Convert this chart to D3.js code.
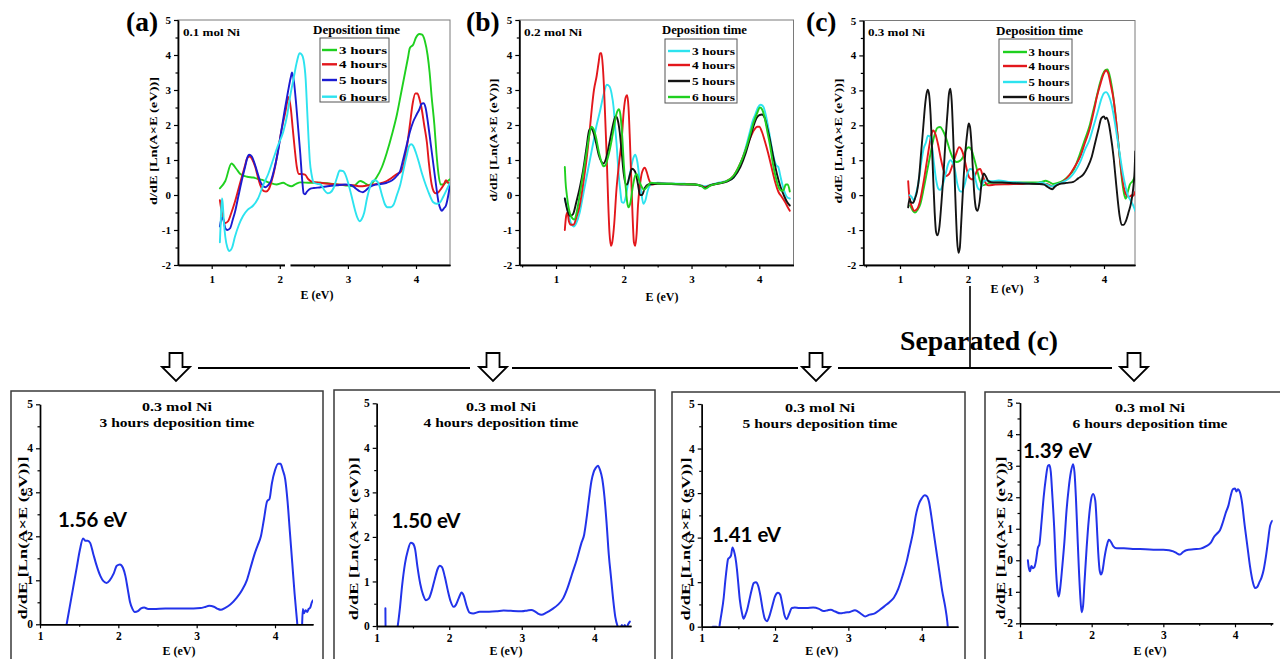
<!DOCTYPE html>
<html><head><meta charset="utf-8">
<script src="https://cdn.jsdelivr.net/npm/d3@7"></script>
<style>body{margin:0;background:#fff}svg{display:block}</style>
</head><body>
<svg id="fig" width="1280" height="659"></svg>
<script>
// ---------------- DATA ----------------
const xTickVals = [1, 2, 3, 4];
const yTicksTop = [-2, -1, 0, 1, 2, 3, 4, 5];
const yTicksBot = [0, 1, 2, 3, 4, 5];
const hoursLabels = ["3 hours", "4 hours", "5 hours", "6 hours"];
const panelLabels = ["(a)", "(b)", "(c)"];
const concLabels = ["0.1 mol Ni", "0.2 mol Ni", "0.3 mol Ni"];
const gapLabels = ["1.56 eV", "1.50 eV", "1.41 eV", "1.39 eV"];
const bottomTitles = ["3 hours deposition time", "4 hours deposition time", "5 hours deposition time", "6 hours deposition time"];

// (a) 0.1 mol Ni
const a3 = [[1.12,0.19],[1.2,0.4],[1.29,0.9],[1.36,0.75],[1.42,0.6],[1.52,0.52],[1.61,0.5],[1.7,0.45],[1.76,0.42],[1.85,0.35],[1.95,0.3],[2.05,0.35],[2.1,0.3],[2.17,0.25],[2.24,0.32],[2.3,0.36],[2.45,0.35],[2.59,0.35],[2.72,0.33],[2.84,0.3],[2.95,0.28],[3.08,0.25],[3.18,0.4],[3.24,0.35],[3.3,0.28],[3.36,0.35],[3.42,0.5],[3.5,0.8],[3.57,1.2],[3.65,1.75],[3.72,2.3],[3.78,2.9],[3.84,3.5],[3.88,3.9],[3.91,4.2],[3.96,4.3],[4.0,4.5],[4.05,4.6],[4.09,4.58],[4.13,4.4],[4.17,4.0],[4.2,3.5],[4.23,2.8],[4.27,2.0],[4.3,1.2],[4.33,0.6],[4.36,0.3],[4.4,0.3],[4.45,0.38],[4.5,0.45]];
const a4 = [[1.12,-0.15],[1.16,-0.6],[1.2,-0.8],[1.24,-0.75],[1.29,-0.5],[1.34,-0.2],[1.39,0.15],[1.44,0.5],[1.49,0.85],[1.52,1.05],[1.56,1.1],[1.6,1.0],[1.64,0.8],[1.68,0.5],[1.72,0.25],[1.76,0.12],[1.8,0.1],[1.84,0.17],[1.88,0.4],[1.93,0.8],[1.98,1.35],[2.03,1.9],[2.08,2.35],[2.13,2.8],[2.16,2.5],[2.19,1.9],[2.22,1.3],[2.25,0.8],[2.28,0.6],[2.32,0.6],[2.37,0.58],[2.42,0.45],[2.47,0.38],[2.59,0.35],[2.72,0.32],[2.84,0.3],[2.96,0.29],[3.08,0.28],[3.18,0.25],[3.28,0.27],[3.37,0.3],[3.47,0.33],[3.57,0.4],[3.65,0.5],[3.72,0.6],[3.77,0.65],[3.81,0.8],[3.86,1.3],[3.91,2.0],[3.95,2.6],[3.99,2.9],[4.02,2.9],[4.05,2.75],[4.08,2.5],[4.12,2.0],[4.16,1.5],[4.19,0.9],[4.23,0.3],[4.26,0.1],[4.29,0.05],[4.33,0.08],[4.37,0.18],[4.41,0.3],[4.44,0.42],[4.47,0.35],[4.5,0.3]];
const a5 = [[1.12,-0.9],[1.15,-0.65],[1.17,-0.7],[1.2,-0.95],[1.23,-1.0],[1.27,-0.95],[1.31,-0.7],[1.34,-0.5],[1.39,-0.05],[1.44,0.4],[1.49,0.8],[1.53,1.1],[1.55,1.15],[1.59,1.1],[1.63,0.9],[1.67,0.65],[1.71,0.4],[1.75,0.27],[1.79,0.22],[1.83,0.28],[1.87,0.4],[1.92,0.75],[1.97,1.2],[2.02,1.8],[2.07,2.4],[2.12,2.95],[2.16,3.35],[2.18,3.5],[2.21,3.2],[2.24,2.6],[2.27,1.9],[2.3,1.2],[2.33,0.4],[2.35,0.05],[2.37,0.02],[2.4,0.1],[2.45,0.18],[2.5,0.2],[2.6,0.22],[2.7,0.25],[2.84,0.28],[2.96,0.3],[3.05,0.28],[3.12,0.18],[3.18,0.1],[3.22,0.08],[3.26,0.13],[3.3,0.2],[3.36,0.27],[3.42,0.3],[3.5,0.32],[3.57,0.35],[3.65,0.42],[3.72,0.55],[3.77,0.7],[3.81,1.0],[3.86,1.4],[3.91,1.8],[3.96,2.1],[4.01,2.3],[4.05,2.45],[4.08,2.6],[4.11,2.62],[4.14,2.5],[4.18,2.0],[4.22,1.4],[4.26,0.8],[4.3,0.2],[4.33,-0.2],[4.36,-0.4],[4.38,-0.45],[4.41,-0.38],[4.44,-0.3],[4.47,-0.05],[4.5,0.3]];
const a6 = [[1.12,-1.35],[1.13,-0.9],[1.15,-0.1],[1.16,-0.2],[1.18,-0.8],[1.2,-1.2],[1.23,-1.5],[1.26,-1.6],[1.3,-1.5],[1.34,-1.2],[1.4,-0.85],[1.46,-0.6],[1.53,-0.42],[1.61,-0.3],[1.68,-0.1],[1.76,0.3],[1.83,0.6],[1.9,1.0],[1.97,1.4],[2.05,1.8],[2.11,2.3],[2.15,2.8],[2.2,3.3],[2.25,3.8],[2.29,4.05],[2.32,4.02],[2.35,3.85],[2.38,3.3],[2.4,2.5],[2.42,1.7],[2.44,1.0],[2.47,0.55],[2.5,0.35],[2.55,0.32],[2.6,0.3],[2.65,0.15],[2.7,0.05],[2.74,0.07],[2.79,0.2],[2.84,0.5],[2.88,0.7],[2.93,0.68],[2.97,0.55],[3.01,0.3],[3.05,0.0],[3.1,-0.4],[3.14,-0.65],[3.17,-0.75],[3.2,-0.7],[3.24,-0.5],[3.28,-0.1],[3.32,0.2],[3.36,0.4],[3.4,0.42],[3.45,0.33],[3.5,0.0],[3.54,-0.25],[3.58,-0.35],[3.63,-0.35],[3.67,-0.28],[3.72,0.0],[3.77,0.3],[3.82,0.75],[3.86,1.1],[3.9,1.4],[3.93,1.45],[3.96,1.4],[4.0,1.2],[4.04,0.95],[4.09,0.6],[4.15,0.25],[4.2,0.0],[4.25,-0.2],[4.3,-0.25],[4.35,-0.22],[4.4,-0.05],[4.45,0.15],[4.49,0.32]];

// (b) 0.2 mol Ni
const b3 = [[1.13,-0.1],[1.18,-0.5],[1.22,-0.8],[1.26,-0.9],[1.3,-0.8],[1.35,-0.5],[1.4,0.0],[1.45,0.5],[1.5,1.0],[1.55,1.5],[1.6,2.0],[1.65,2.4],[1.7,2.85],[1.75,3.15],[1.79,3.1],[1.82,2.9],[1.85,2.5],[1.87,2.0],[1.9,1.3],[1.92,0.7],[1.95,0.1],[1.97,-0.2],[2.0,-0.22],[2.03,-0.05],[2.06,0.3],[2.1,0.7],[2.14,1.05],[2.17,1.15],[2.2,0.95],[2.23,0.5],[2.26,0.05],[2.29,-0.25],[2.32,-0.15],[2.35,0.1],[2.4,0.3],[2.5,0.35],[2.7,0.33],[2.9,0.32],[3.05,0.3],[3.15,0.27],[3.2,0.25],[3.3,0.3],[3.4,0.35],[3.52,0.4],[3.62,0.5],[3.7,0.8],[3.76,1.1],[3.82,1.5],[3.86,1.8],[3.9,2.1],[3.94,2.3],[3.98,2.5],[4.02,2.58],[4.06,2.52],[4.1,2.25],[4.14,1.85],[4.18,1.4],[4.21,1.1],[4.25,0.85],[4.28,0.8],[4.31,0.55],[4.34,0.3],[4.38,0.05],[4.42,-0.08],[4.45,-0.1]];
const b4 = [[1.13,-1.0],[1.15,-0.6],[1.17,-0.5],[1.19,-0.75],[1.22,-0.85],[1.26,-0.85],[1.3,-0.65],[1.35,-0.3],[1.4,0.3],[1.45,1.0],[1.5,1.9],[1.53,2.5],[1.56,3.0],[1.6,3.4],[1.63,3.8],[1.65,4.05],[1.67,4.05],[1.69,3.7],[1.71,3.0],[1.73,2.0],[1.75,1.0],[1.77,-0.2],[1.79,-1.1],[1.81,-1.45],[1.83,-1.35],[1.86,-0.8],[1.89,0.1],[1.93,0.9],[1.97,1.6],[2.0,2.4],[2.03,2.8],[2.05,2.85],[2.07,2.5],[2.09,1.6],[2.11,0.5],[2.13,-0.6],[2.15,-1.35],[2.17,-1.45],[2.19,-1.1],[2.21,-0.3],[2.24,0.3],[2.27,0.65],[2.31,0.78],[2.34,0.65],[2.37,0.45],[2.41,0.3],[2.5,0.33],[2.7,0.32],[2.9,0.31],[3.05,0.3],[3.15,0.26],[3.2,0.22],[3.28,0.28],[3.4,0.33],[3.52,0.4],[3.62,0.55],[3.72,0.9],[3.8,1.3],[3.86,1.6],[3.92,1.85],[3.97,1.95],[4.0,1.95],[4.04,1.8],[4.08,1.55],[4.13,1.2],[4.18,0.8],[4.23,0.4],[4.28,0.1],[4.33,-0.05],[4.38,-0.2],[4.42,-0.35],[4.45,-0.45]];
const b5 = [[1.13,-0.1],[1.17,-0.45],[1.21,-0.6],[1.25,-0.55],[1.3,-0.2],[1.35,0.2],[1.4,0.7],[1.45,1.35],[1.49,1.85],[1.52,1.9],[1.55,1.8],[1.59,1.5],[1.63,1.15],[1.67,0.95],[1.7,0.9],[1.74,1.05],[1.78,1.4],[1.82,1.8],[1.86,2.15],[1.88,2.25],[1.91,2.15],[1.94,1.8],[1.97,1.2],[2.0,0.6],[2.03,0.3],[2.05,0.3],[2.08,0.5],[2.12,0.75],[2.15,0.72],[2.18,0.6],[2.21,0.3],[2.24,0.0],[2.27,0.0],[2.31,0.2],[2.36,0.3],[2.5,0.32],[2.7,0.31],[2.9,0.3],[3.05,0.3],[3.15,0.25],[3.2,0.2],[3.27,0.27],[3.4,0.33],[3.52,0.38],[3.62,0.5],[3.72,0.8],[3.8,1.2],[3.86,1.6],[3.92,2.0],[3.96,2.2],[4.0,2.28],[4.04,2.3],[4.08,2.2],[4.12,1.9],[4.16,1.55],[4.21,1.05],[4.26,0.6],[4.31,0.25],[4.36,0.0],[4.41,-0.2],[4.45,-0.3]];
const b6 = [[1.13,0.8],[1.14,0.4],[1.16,0.0],[1.19,-0.4],[1.22,-0.6],[1.27,-0.7],[1.31,-0.45],[1.35,0.0],[1.4,0.6],[1.45,1.2],[1.49,1.7],[1.52,1.95],[1.55,1.9],[1.59,1.65],[1.63,1.25],[1.67,0.95],[1.7,0.82],[1.73,0.85],[1.77,1.1],[1.82,1.55],[1.86,2.0],[1.89,2.3],[1.93,2.45],[1.95,2.3],[1.98,1.6],[2.0,0.9],[2.03,0.2],[2.05,-0.2],[2.07,-0.35],[2.1,-0.2],[2.13,0.2],[2.16,0.5],[2.19,0.6],[2.22,0.45],[2.26,0.25],[2.3,0.15],[2.35,0.25],[2.4,0.35],[2.5,0.33],[2.7,0.32],[2.9,0.31],[3.05,0.3],[3.15,0.25],[3.2,0.18],[3.27,0.26],[3.4,0.33],[3.52,0.4],[3.62,0.55],[3.72,0.9],[3.8,1.3],[3.86,1.7],[3.92,2.1],[3.97,2.35],[4.01,2.5],[4.04,2.45],[4.08,2.2],[4.12,1.8],[4.16,1.4],[4.2,0.9],[4.25,0.45],[4.29,0.2],[4.33,0.12],[4.36,0.15],[4.39,0.3],[4.42,0.3],[4.45,0.1]];

// (c) 0.3 mol Ni
const c3 = [[1.15,-0.3],[1.19,-0.45],[1.22,-0.5],[1.26,-0.42],[1.3,-0.25],[1.35,0.2],[1.4,0.7],[1.44,1.1],[1.48,1.5],[1.52,1.8],[1.55,1.93],[1.59,1.95],[1.63,1.85],[1.68,1.62],[1.73,1.3],[1.78,1.05],[1.83,0.95],[1.88,0.98],[1.93,1.1],[1.97,1.3],[2.01,1.37],[2.05,1.3],[2.09,1.05],[2.13,0.75],[2.17,0.45],[2.21,0.28],[2.26,0.3],[2.32,0.35],[2.4,0.36],[2.6,0.36],[2.8,0.36],[3.0,0.36],[3.08,0.38],[3.14,0.41],[3.19,0.38],[3.25,0.32],[3.32,0.35],[3.4,0.42],[3.48,0.55],[3.56,0.75],[3.64,1.15],[3.72,1.6],[3.79,2.0],[3.84,2.4],[3.89,2.8],[3.94,3.2],[3.98,3.45],[4.02,3.58],[4.05,3.6],[4.08,3.45],[4.12,3.05],[4.16,2.45],[4.2,1.7],[4.24,0.9],[4.27,0.35],[4.3,0.0],[4.32,-0.1],[4.35,0.1],[4.38,0.3],[4.42,0.4],[4.46,0.55]];
const c4 = [[1.12,0.4],[1.14,-0.1],[1.17,-0.3],[1.21,-0.45],[1.25,-0.4],[1.29,-0.2],[1.34,0.3],[1.39,0.9],[1.43,1.4],[1.47,1.8],[1.49,1.85],[1.52,1.75],[1.56,1.45],[1.6,1.05],[1.64,0.72],[1.68,0.55],[1.72,0.6],[1.77,0.85],[1.82,1.15],[1.87,1.37],[1.9,1.32],[1.94,1.1],[1.98,0.75],[2.02,0.5],[2.06,0.45],[2.1,0.55],[2.14,0.72],[2.18,0.75],[2.21,0.6],[2.25,0.38],[2.3,0.28],[2.4,0.3],[2.6,0.31],[2.8,0.32],[3.0,0.32],[3.1,0.33],[3.16,0.32],[3.24,0.25],[3.32,0.3],[3.42,0.42],[3.5,0.6],[3.58,0.85],[3.65,1.1],[3.72,1.5],[3.79,1.9],[3.85,2.4],[3.9,2.85],[3.95,3.2],[3.99,3.45],[4.03,3.57],[4.06,3.5],[4.1,3.15],[4.14,2.75],[4.18,2.1],[4.22,1.3],[4.26,0.6],[4.3,0.15],[4.33,0.0],[4.37,-0.05],[4.41,0.0],[4.43,-0.02],[4.46,0.1]];
const c5 = [[1.14,0.0],[1.17,-0.05],[1.2,-0.15],[1.23,0.0],[1.27,0.35],[1.31,0.9],[1.35,1.35],[1.38,1.5],[1.41,1.7],[1.44,1.68],[1.47,1.4],[1.5,0.9],[1.53,0.45],[1.56,0.2],[1.59,0.15],[1.63,0.3],[1.67,0.6],[1.71,0.9],[1.74,1.0],[1.77,0.95],[1.81,0.7],[1.84,0.35],[1.88,0.12],[1.91,0.1],[1.95,0.3],[1.99,0.6],[2.03,0.75],[2.07,0.72],[2.11,0.45],[2.14,0.22],[2.17,0.15],[2.2,0.25],[2.24,0.42],[2.28,0.42],[2.35,0.4],[2.45,0.42],[2.6,0.38],[2.75,0.36],[2.9,0.33],[3.0,0.33],[3.08,0.36],[3.16,0.3],[3.23,0.25],[3.3,0.3],[3.4,0.38],[3.5,0.5],[3.58,0.7],[3.65,0.95],[3.72,1.3],[3.79,1.6],[3.85,2.0],[3.91,2.4],[3.96,2.75],[4.0,2.92],[4.03,2.95],[4.07,2.85],[4.11,2.6],[4.15,2.2],[4.19,1.7],[4.23,1.2],[4.27,0.7],[4.31,0.3],[4.35,0.0],[4.39,-0.15],[4.43,-0.3],[4.46,-0.45]];
const c6 = [[1.12,-0.35],[1.14,-0.1],[1.16,-0.2],[1.19,-0.22],[1.22,-0.1],[1.25,0.1],[1.28,0.5],[1.31,1.2],[1.34,1.9],[1.37,2.6],[1.39,2.9],[1.41,3.02],[1.43,2.85],[1.45,2.3],[1.47,1.4],[1.49,0.4],[1.51,-0.5],[1.53,-1.05],[1.55,-1.15],[1.58,-0.9],[1.61,-0.2],[1.64,0.6],[1.67,1.6],[1.7,2.4],[1.72,2.9],[1.74,3.05],[1.76,2.7],[1.78,1.8],[1.8,0.7],[1.82,-0.4],[1.84,-1.3],[1.86,-1.65],[1.88,-1.5],[1.9,-0.8],[1.93,0.3],[1.96,1.2],[1.99,1.8],[2.01,2.05],[2.03,1.95],[2.05,1.5],[2.07,0.8],[2.09,0.1],[2.12,-0.4],[2.14,-0.45],[2.17,-0.2],[2.2,0.35],[2.23,0.62],[2.26,0.55],[2.3,0.4],[2.37,0.36],[2.5,0.36],[2.7,0.34],[2.9,0.33],[3.05,0.32],[3.12,0.3],[3.16,0.25],[3.2,0.2],[3.24,0.17],[3.28,0.25],[3.35,0.32],[3.45,0.35],[3.55,0.38],[3.62,0.48],[3.7,0.6],[3.76,0.8],[3.82,1.1],[3.87,1.5],[3.92,1.9],[3.96,2.2],[4.0,2.25],[4.02,2.18],[4.04,2.22],[4.07,2.05],[4.1,1.7],[4.14,1.1],[4.17,0.5],[4.2,-0.1],[4.23,-0.6],[4.26,-0.85],[4.29,-0.85],[4.32,-0.75],[4.36,-0.5],[4.4,-0.2],[4.43,0.2],[4.45,0.7],[4.46,1.25]];

// Separated (c) panels
const s3 = [[1.3,-0.4],[1.34,0.0],[1.37,0.3],[1.4,0.6],[1.44,1.0],[1.47,1.3],[1.51,1.7],[1.55,1.95],[1.58,1.9],[1.61,1.9],[1.64,1.85],[1.68,1.6],[1.72,1.35],[1.77,1.1],[1.81,0.98],[1.85,0.94],[1.89,1.0],[1.94,1.15],[1.98,1.33],[2.02,1.36],[2.06,1.28],[2.09,1.1],[2.12,0.8],[2.15,0.5],[2.18,0.35],[2.21,0.28],[2.25,0.3],[2.29,0.36],[2.33,0.38],[2.38,0.35],[2.45,0.35],[2.6,0.36],[2.8,0.36],[2.96,0.36],[3.05,0.37],[3.1,0.39],[3.16,0.42],[3.22,0.4],[3.27,0.35],[3.31,0.33],[3.36,0.37],[3.43,0.45],[3.51,0.6],[3.58,0.78],[3.64,1.0],[3.69,1.3],[3.74,1.6],[3.78,1.8],[3.82,2.0],[3.86,2.4],[3.9,2.8],[3.93,2.85],[3.96,3.2],[4.0,3.5],[4.04,3.65],[4.07,3.65],[4.1,3.5],[4.13,3.3],[4.16,2.8],[4.19,2.1],[4.22,1.4],[4.25,0.7],[4.28,0.1],[4.3,-0.3],[4.32,-0.5],[4.34,-0.3],[4.355,0.35],[4.37,0.25],[4.39,0.32],[4.41,0.28],[4.43,0.35],[4.45,0.38],[4.47,0.5],[4.49,0.55]];
const s4 = [[1.12,0.4],[1.125,-0.5],[1.2,-0.5],[1.27,-0.2],[1.29,0.0],[1.32,0.4],[1.35,0.9],[1.39,1.4],[1.43,1.7],[1.47,1.87],[1.5,1.85],[1.53,1.72],[1.56,1.35],[1.6,0.95],[1.64,0.7],[1.68,0.58],[1.72,0.62],[1.76,0.8],[1.8,1.05],[1.84,1.28],[1.87,1.35],[1.9,1.32],[1.94,1.1],[1.98,0.8],[2.02,0.55],[2.06,0.43],[2.09,0.47],[2.13,0.62],[2.17,0.75],[2.2,0.68],[2.24,0.45],[2.28,0.3],[2.33,0.28],[2.42,0.32],[2.55,0.32],[2.65,0.33],[2.75,0.35],[2.85,0.34],[3.0,0.33],[3.08,0.35],[3.13,0.36],[3.18,0.33],[3.23,0.27],[3.27,0.25],[3.34,0.3],[3.42,0.38],[3.5,0.48],[3.57,0.62],[3.63,0.85],[3.69,1.15],[3.76,1.5],[3.82,1.85],[3.86,2.05],[3.9,2.5],[3.93,2.9],[3.96,3.25],[3.99,3.45],[4.02,3.55],[4.05,3.6],[4.08,3.5],[4.11,3.3],[4.14,2.9],[4.17,2.3],[4.2,1.6],[4.23,1.1],[4.26,0.6],[4.29,0.2],[4.32,0.0],[4.35,-0.1],[4.38,0.02],[4.4,-0.05],[4.42,0.02],[4.44,-0.05],[4.47,0.05],[4.49,0.1]];
const s5 = [[1.15,0.0],[1.2,0.0],[1.23,-0.1],[1.25,0.1],[1.27,0.3],[1.3,0.65],[1.32,1.0],[1.34,1.3],[1.36,1.52],[1.38,1.55],[1.4,1.6],[1.42,1.78],[1.44,1.7],[1.46,1.55],[1.48,1.3],[1.5,0.95],[1.52,0.6],[1.55,0.3],[1.57,0.18],[1.6,0.28],[1.62,0.38],[1.65,0.6],[1.68,0.82],[1.71,0.98],[1.74,1.0],[1.77,0.92],[1.8,0.7],[1.83,0.4],[1.86,0.18],[1.89,0.12],[1.92,0.22],[1.96,0.45],[2.0,0.68],[2.04,0.76],[2.07,0.72],[2.1,0.5],[2.13,0.25],[2.16,0.17],[2.19,0.28],[2.23,0.42],[2.27,0.43],[2.33,0.42],[2.43,0.42],[2.52,0.43],[2.6,0.4],[2.66,0.35],[2.72,0.37],[2.76,0.38],[2.82,0.34],[2.89,0.3],[2.96,0.32],[3.02,0.33],[3.09,0.37],[3.13,0.34],[3.18,0.28],[3.23,0.23],[3.29,0.27],[3.36,0.3],[3.43,0.38],[3.5,0.47],[3.56,0.55],[3.62,0.65],[3.68,0.85],[3.74,1.15],[3.8,1.5],[3.84,1.8],[3.88,2.1],[3.92,2.5],[3.96,2.75],[4.0,2.88],[4.04,2.95],[4.07,2.93],[4.1,2.8],[4.13,2.5],[4.16,2.15],[4.2,1.7],[4.24,1.25],[4.28,0.8],[4.32,0.45],[4.35,0.1],[4.37,-0.3]];
const s6 = [[1.11,0.0],[1.12,-0.2],[1.14,-0.35],[1.15,-0.25],[1.16,-0.18],[1.18,-0.25],[1.2,-0.22],[1.22,-0.05],[1.25,0.4],[1.27,0.5],[1.3,1.2],[1.33,2.0],[1.36,2.6],[1.39,3.0],[1.41,3.02],[1.43,2.8],[1.45,2.1],[1.48,0.9],[1.5,-0.2],[1.52,-0.9],[1.54,-1.15],[1.56,-0.9],[1.59,-0.2],[1.62,0.6],[1.65,1.6],[1.68,2.3],[1.71,2.8],[1.74,3.05],[1.76,2.8],[1.78,2.0],[1.8,0.9],[1.82,-0.2],[1.84,-1.1],[1.86,-1.65],[1.88,-1.45],[1.9,-0.7],[1.93,0.4],[1.96,1.3],[1.99,1.9],[2.02,2.1],[2.05,1.9],[2.07,1.2],[2.09,0.3],[2.11,-0.3],[2.13,-0.45],[2.15,-0.35],[2.18,0.1],[2.21,0.45],[2.24,0.65],[2.27,0.58],[2.3,0.45],[2.35,0.38],[2.45,0.38],[2.6,0.36],[2.75,0.35],[2.9,0.33],[3.0,0.33],[3.08,0.32],[3.14,0.28],[3.19,0.22],[3.23,0.18],[3.27,0.25],[3.32,0.32],[3.42,0.35],[3.52,0.37],[3.6,0.45],[3.66,0.55],[3.71,0.75],[3.75,0.85],[3.79,0.95],[3.83,1.2],[3.87,1.5],[3.91,1.75],[3.94,2.05],[3.97,2.25],[4.0,2.28],[4.02,2.18],[4.04,2.25],[4.07,2.15],[4.1,1.8],[4.13,1.2],[4.17,0.5],[4.21,-0.2],[4.25,-0.7],[4.28,-0.88],[4.31,-0.85],[4.34,-0.7],[4.37,-0.55],[4.4,-0.3],[4.43,0.1],[4.46,0.6],[4.49,1.1],[4.52,1.25]];

// ---------------- DRAWING ----------------
const C = {green:"#1fd01f", red:"#e3171c", blue:"#1b1bd2", cyan:"#2de3ef", black:"#141414", bblue:"#2233ea"};
const SERIF = "'Liberation Serif','Times New Roman',serif";
const SANS = "Lato,'Open Sans',sans-serif";
const svg = d3.select("#fig");
const defs = svg.append("defs");
const YLAB = "d/dE [Ln(A\u00D7E (eV))]";

function txt(s, x, y, o) {
  o = o || {};
  const t = svg.append("text").attr("x", x).attr("y", y).text(s)
    .attr("font-family", o.family || SERIF)
    .attr("font-weight", o.weight || "bold")
    .attr("font-size", o.size || 11)
    .attr("fill", "#000")
    .attr("text-anchor", o.anchor || "start");
  if (o.w) t.attr("textLength", o.w).attr("lengthAdjust", "spacingAndGlyphs");
  if (o.rot) t.attr("transform", `rotate(-90,${x},${y})`).attr("dy", "0.35em");
  return t;
}

function panel(c) {
  const xs = d3.scaleLinear().domain([1, 4]).range([c.x1, c.x4]);
  const x = d3.scaleLinear().domain([xs.invert(c.left), xs.invert(c.right)]).range([c.left, c.right]);
  const y = d3.scaleLinear().domain([c.yMin, c.yMax]).range([c.bottom, c.top]);
  defs.append("clipPath").attr("id", c.id).append("rect")
    .attr("x", c.left).attr("y", c.top - 1).attr("width", c.right - c.left).attr("height", c.bottom - c.top + 1);
  const g = svg.append("g");
  if (c.box) {
    g.append("rect").attr("x", c.left).attr("y", c.top).attr("width", c.right - c.left)
      .attr("height", c.bottom - c.top).attr("fill", "none").attr("stroke", "#7a7a7a").attr("stroke-width", 1);
  }
  const line = d3.line().x(d => x(d[0])).y(d => y(d[1])).curve(d3.curveMonotoneX);
  c.series.forEach(s => {
    g.append("path").attr("clip-path", `url(#${c.id})`).attr("d", line(s.data))
      .attr("fill", "none").attr("stroke", s.color).attr("stroke-width", c.lw)
      .attr("stroke-linejoin", "round").attr("stroke-linecap", "round");
  });
  const dom = x.domain();
  const minorX = d3.range(Math.ceil(dom[0] * 2) / 2, dom[1] + 1e-6, 0.5)
    .filter(v => !Number.isInteger(v) && x(v) > c.left + 1 && x(v) < c.right - 1);
  const minorY = d3.range(c.yMin + 0.5, c.yMax, 1);
  const style = sel => {
    sel.attr("font-family", SERIF).attr("font-size", c.fs).attr("font-weight", "bold");
    sel.select(".domain").attr("stroke", "#000").attr("stroke-width", 1.4);
    sel.selectAll(".tick line").attr("stroke", "#000").attr("stroke-width", 1.2);
    sel.selectAll(".tick text").attr("fill", "#000");
  };
  g.append("g").attr("transform", `translate(0,${c.bottom})`)
    .call(d3.axisBottom(x).tickValues(minorX).tickSize(2.5).tickSizeOuter(0).tickFormat(""))
    .call(style);
  const ax = g.append("g").attr("transform", `translate(0,${c.bottom})`)
    .call(d3.axisBottom(x).tickValues(xTickVals).tickSize(4).tickSizeOuter(0).tickFormat(d => String(d)))
    .call(style);
  ax.selectAll(".tick text").attr("dy", null).attr("y", c.xLabOff);
  g.append("g").attr("transform", `translate(${c.left},0)`)
    .call(d3.axisLeft(y).tickValues(minorY).tickSize(2.5).tickSizeOuter(0).tickFormat(""))
    .call(style);
  g.append("g").attr("transform", `translate(${c.left},0)`)
    .call(d3.axisLeft(y).tickValues(c.yTicks).tickSize(4).tickPadding(3).tickSizeOuter(0).tickFormat(d => String(d)))
    .call(style);
  return {x, y, g};
}

// ----- top panels -----
const topCfg = [
  {id:"ca", left:178, right:450, top:20, bottom:265, x1:211.7, x4:416,
   series:[{data:a3,color:C.green},{data:a4,color:C.red},{data:a5,color:C.blue},{data:a6,color:C.cyan}]},
  {id:"cb", left:519.3, right:793.5, top:20, bottom:265, x1:556, x4:759.3,
   series:[{data:b3,color:C.cyan},{data:b4,color:C.red},{data:b5,color:C.black},{data:b6,color:C.green}]},
  {id:"cc", left:863.3, right:1135, top:20.5, bottom:265, x1:900, x4:1104,
   series:[{data:c3,color:C.green},{data:c4,color:C.red},{data:c5,color:C.cyan},{data:c6,color:C.black}]}
];
const topText = [
  {pl:[126, 30.5], conc:[183, 35.5, 57], dep:[313, 34, 87], box:[320, 38, 69, 64], rows:[50, 64.3, 80, 96.7], lx:[322, 337], tx:[339, 48], yl:[153.5, 141, 128], xl:[317, 299]},
  {pl:[466, 31], conc:[524, 35.5, 58], dep:[662, 34, 85], box:[665, 39, 72, 64], rows:[51, 65, 81, 97], lx:[668, 690], tx:[692, 43], yl:[493.5, 140, 123], xl:[662, 301]},
  {pl:[806, 31], conc:[868, 35.5, 57], dep:[996, 35, 87], box:[999, 39, 73, 64], rows:[52, 66, 82, 97], lx:[1003, 1027], tx:[1028.5, 41], yl:[838, 141, 125], xl:[1007, 293]}
];
topCfg.forEach((c, i) => {
  Object.assign(c, {yMin:-2, yMax:5, yTicks:yTicksTop, box:true, lw:1.9, fs:11, xLabOff:18});
  panel(c);
  const t = topText[i];
  txt(panelLabels[i], t.pl[0], t.pl[1], {size:27.5});
  txt(concLabels[i], t.conc[0], t.conc[1], {size:11, w:t.conc[2]});
  txt("Deposition time", t.dep[0], t.dep[1], {size:11.5, w:t.dep[2]});
  svg.append("rect").attr("x", t.box[0]).attr("y", t.box[1]).attr("width", t.box[2]).attr("height", t.box[3])
    .attr("fill", "none").attr("stroke", "#555").attr("stroke-width", 1);
  c.series.forEach((s, k) => {
    svg.append("line").attr("x1", t.lx[0]).attr("x2", t.lx[1]).attr("y1", t.rows[k]).attr("y2", t.rows[k])
      .attr("stroke", s.color).attr("stroke-width", 2.4);
    txt(hoursLabels[k], t.tx[0], t.rows[k] + 4, {size:11, w:t.tx[1]});
  });
  txt(YLAB, t.yl[0], t.yl[1], {size:11, anchor:"middle", rot:true, w:t.yl[2]});
  txt("E (eV)", t.xl[0], t.xl[1], {size:12, anchor:"middle"});
});
// small break in (a) x-axis
svg.append("rect").attr("x", 285).attr("y", 262).attr("width", 5.5).attr("height", 6).attr("fill", "#fff");

// ----- separator graphics -----
svg.append("line").attr("x1", 970).attr("x2", 970).attr("y1", 286).attr("y2", 368).attr("stroke", "#000").attr("stroke-width", 1.6);
txt("Separated (c)", 900, 350, {size:28, w:158});
[[198, 470], [512, 798], [838, 1112]].forEach(s => {
  svg.append("line").attr("x1", s[0]).attr("x2", s[1]).attr("y1", 368).attr("y2", 368).attr("stroke", "#000").attr("stroke-width", 2);
});
[176, 493, 816, 1134].forEach(cx => {
  const p = d3.path();
  p.moveTo(cx - 6.5, 353); p.lineTo(cx + 6.5, 353); p.lineTo(cx + 6.5, 367); p.lineTo(cx + 14, 367);
  p.lineTo(cx, 381); p.lineTo(cx - 14, 367); p.lineTo(cx - 6.5, 367); p.closePath();
  svg.append("path").attr("d", p.toString()).attr("fill", "#fff").attr("stroke", "#000").attr("stroke-width", 1.8).attr("stroke-linejoin", "miter");
});

// ----- bottom panels -----
const botCfg = [
  {id:"d1", left:40, right:313, top:404.3, bottom:624.3, x1:40, x4:275, yMin:0, yTicks:yTicksBot, data:s3,
   frame:[11, 391, 312], title:[177, 410.7, 426.7], gap:[58, 527], yl:[23, 538], xl:179},
  {id:"d2", left:376.7, right:631, top:403.3, bottom:626, x1:376.7, x4:594.3, yMin:0, yTicks:yTicksBot, data:s4,
   frame:[334, 390, 321], title:[501, 410.7, 426.7], gap:[391.5, 528], yl:[354, 538.7], xl:506},
  {id:"d3", left:701.7, right:958, top:404, bottom:626.7, x1:701.7, x4:921.7, yMin:0, yTicks:yTicksBot, data:s5,
   frame:[672, 392, 293], title:[820, 411.7, 428.3], gap:[712, 541.7], yl:[686, 539], xl:821.7},
  {id:"d4", left:1020, right:1272.7, top:402.7, bottom:623.3, x1:1020, x4:1235, yMin:-2, yTicks:yTicksTop, data:s6,
   frame:[985, 392, 320], title:[1150, 411.7, 428.3], gap:[1023, 458.3], yl:[1001, 538], xl:1150}
];
botCfg.forEach((c, i) => {
  svg.append("rect").attr("x", c.frame[0]).attr("y", c.frame[1]).attr("width", c.frame[2]).attr("height", 320)
    .attr("fill", "none").attr("stroke", "#3a3a3a").attr("stroke-width", 1.5);
  Object.assign(c, {yMax:5, box:false, lw:2, fs:11.5, xLabOff:15.5, series:[{data:c.data, color:C.bblue}]});
  panel(c);
  txt(concLabels[2], c.title[0], c.title[1], {size:13.5, anchor:"middle", w:70});
  txt(bottomTitles[i], c.title[0], c.title[2], {size:13.5, anchor:"middle", w:155});
  txt(gapLabels[i], c.gap[0], c.gap[1], {size:21, family:SANS, w:69});
  txt(YLAB, c.yl[0], c.yl[1], {size:12, anchor:"middle", rot:true, w:163});
  txt("E (eV)", c.xl, 655, {size:12, anchor:"middle"});
});
</script>
</body></html>
